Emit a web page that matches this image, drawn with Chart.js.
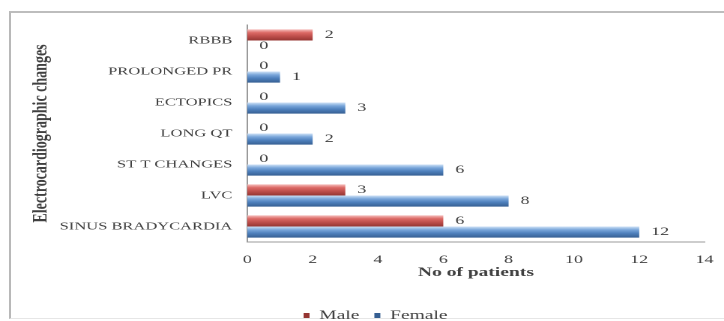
<!DOCTYPE html>
<html>
<head>
<meta charset="utf-8">
<script src="https://cdn.jsdelivr.net/npm/chart.js@4.4.1/dist/chart.umd.min.js"></script>
<style>
  html, body { margin: 0; padding: 0; background: #ffffff; overflow: hidden; }
  #frame {
    position: absolute; left: 9px; top: 11px; width: 760px; height: 305px;
    border-left: 2px solid #b8b8b8; border-top: 2px solid #bdbdbd;
    border-bottom: 1px solid #e6e6e6;
  }
  /* the figure is laid out narrow and widened, giving the broad lettering */
  #wrap {
    position: absolute; left: 0; top: 0; width: 483px; height: 321px;
    transform: scaleX(1.499); transform-origin: 0 0;
  }
</style>
</head>
<body>
<div id="frame"></div>
<div id="wrap"><canvas id="ecg"></canvas></div>
<script>
const categories = ['RBBB', 'PROLONGED PR', 'ECTOPICS', 'LONG QT', 'ST T CHANGES', 'LVC', 'SINUS BRADYCARDIA'];
const maleCounts = [2, 0, 0, 0, 0, 3, 6];
const femaleCounts = [0, 1, 3, 2, 6, 8, 12];
const xTicks = [0, 2, 4, 6, 8, 10, 12, 14];

const SERIF = "'Liberation Serif', 'DejaVu Serif', serif";
const TEXT = '#404040';
const CAT_PCT = 0.72;

const redStops = [[0, '#f6c0be'], [0.3, '#dc6a66'], [0.6, '#c0504d'], [1, '#953532']];
const blueStops = [[0, '#cfe2f7'], [0.3, '#79a6da'], [0.6, '#4f81bd'], [1, '#365f92']];

// vertical sheen on each bar, lighter on top and deeper below
function barGradient(stops) {
  return (ctx) => {
    const chart = ctx.chart;
    const y = chart.scales.y;
    if (!chart.chartArea || !y || ctx.type !== 'data') return stops[2][1];
    const band = (y.bottom - y.top) / categories.length;
    const h = band * CAT_PCT / 2;
    const mid = y.getPixelForValue(ctx.dataIndex) + (ctx.datasetIndex === 0 ? -h / 2 : h / 2);
    const g = chart.ctx.createLinearGradient(0, mid - h / 2, 0, mid + h / 2);
    stops.forEach(([o, c]) => g.addColorStop(o, c));
    return g;
  };
}

// count written just past the end of every bar
const valueLabels = {
  id: 'valueLabels',
  afterDatasetsDraw(chart) {
    const c = chart.ctx;
    c.save();
    c.font = '12px ' + SERIF;
    c.fillStyle = TEXT;
    c.textAlign = 'left';
    c.textBaseline = 'middle';
    chart.data.datasets.forEach((ds, di) => {
      chart.getDatasetMeta(di).data.forEach((bar, i) => {
        c.fillText(String(ds.data[i]), bar.x + 8, bar.y);
      });
    });
    c.restore();
  }
};

new Chart(document.getElementById('ecg'), {
  type: 'bar',
  data: {
    labels: categories,
    datasets: [
      { label: 'Male', data: maleCounts, backgroundColor: barGradient(redStops) },
      { label: 'Female', data: femaleCounts, backgroundColor: barGradient(blueStops) }
    ]
  },
  options: {
    indexAxis: 'y',
    responsive: true,
    maintainAspectRatio: false,
    animation: false,
    devicePixelRatio: 2,
    layout: { padding: { top: 25, right: 13, bottom: -11, left: 31 } },
    datasets: { bar: { categoryPercentage: CAT_PCT, barPercentage: 1 } },
    scales: {
      x: {
        min: 0, max: 14,
        afterBuildTicks: (s) => { s.ticks = xTicks.map(v => ({ value: v })); },
        grid: { display: false, drawTicks: false },
        border: { display: true, color: '#9a9a9a', width: 1 },
        ticks: { padding: 6, color: TEXT, font: { family: SERIF, size: 12, lineHeight: 2 } },
        title: {
          display: true, text: 'No of patients', color: TEXT,
          font: { family: SERIF, size: 13, weight: 'bold', lineHeight: 1 },
          padding: { top: -12, bottom: 20 }
        }
      },
      y: {
        afterFit: (s) => { s.width = 134; },
        grid: { display: false, drawTicks: false },
        border: { display: true, color: '#9a9a9a', width: 1 },
        ticks: { padding: 10, color: TEXT, font: { family: SERIF, size: 11 } },
        title: {
          display: true, text: 'Electrocardiographic changes', color: TEXT,
          font: { family: SERIF, size: 14, weight: 'bold', lineHeight: 1.2 },
          padding: { top: -12, bottom: 0 }
        }
      }
    },
    plugins: {
      legend: {
        position: 'bottom',
        labels: {
          boxWidth: 4, boxHeight: 5, padding: 10, color: TEXT,
          font: { family: SERIF, size: 13 }
        }
      },
      tooltip: { enabled: false }
    }
  },
  plugins: [valueLabels]
});
</script>
</body>
</html>
